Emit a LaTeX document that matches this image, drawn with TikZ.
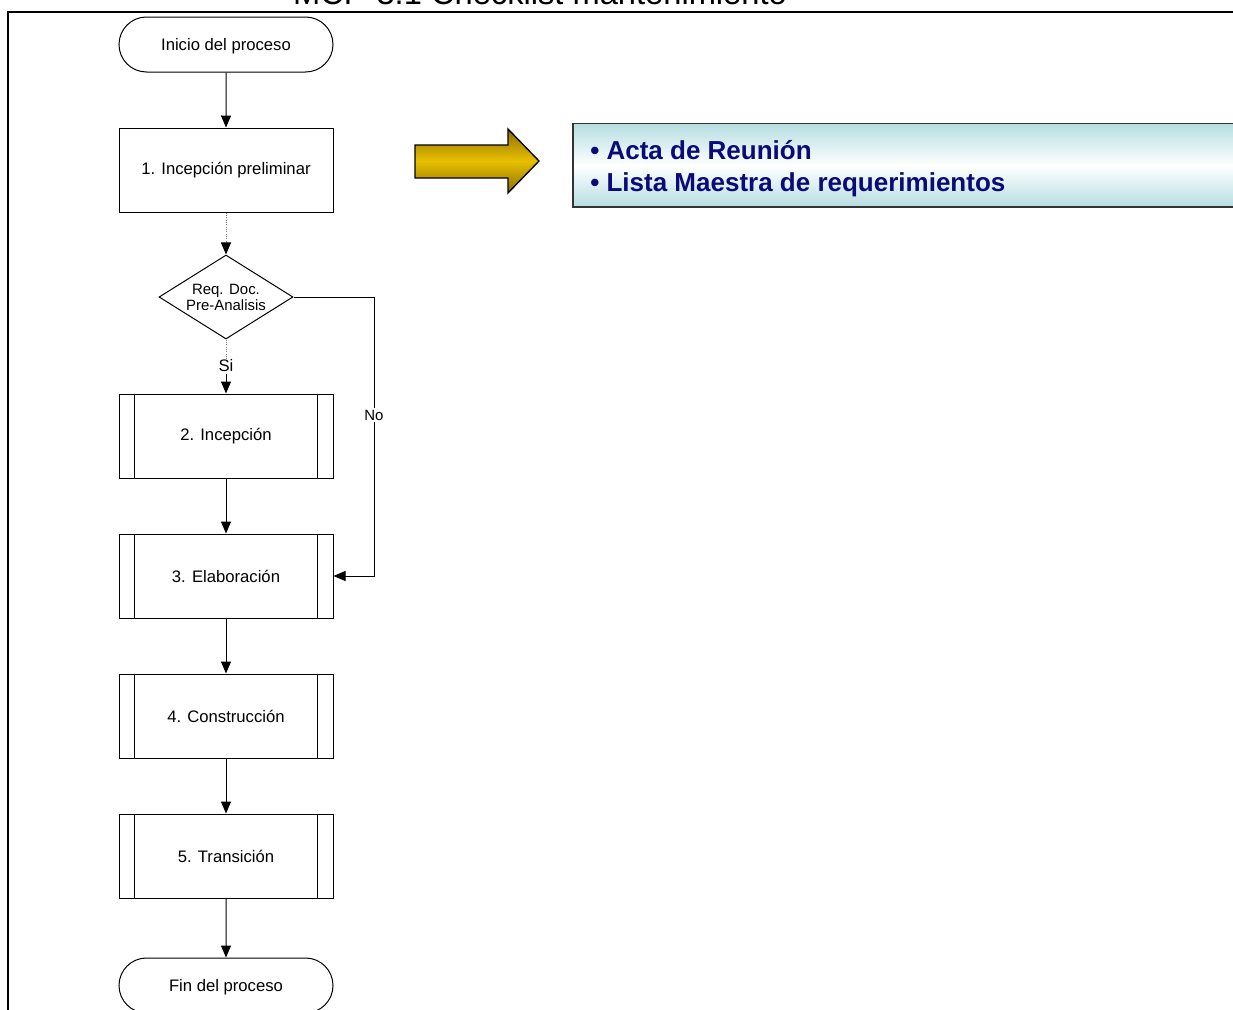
\documentclass[tikz,border=0pt]{standalone}
\usepackage{fontspec}
\setmainfont{Liberation Sans}
\usetikzlibrary{shapes.geometric,shapes.misc,arrows.meta,calc}
\definecolor{navy}{HTML}{0A0A78}
\definecolor{teal1}{HTML}{B6DDE1}
\definecolor{gold}{HTML}{E8C000}
\definecolor{golddark}{HTML}{8C6E00}
\tikzset{
  base/.style={draw=black, line width=0.75pt, font=\fontsize{12.5}{14}\selectfont, align=center},
  term/.style={base, rounded rectangle, minimum width=160.5pt, minimum height=41.25pt, inner sep=0pt, text depth=0pt},
  proc/.style={base, rectangle, minimum width=160.5pt, minimum height=63pt, inner sep=0pt},
  subproc/.style={proc, append after command={
      \pgfextra{\draw[line width=0.75pt] ([xshift=12pt]\tikzlastnode.north west) -- ([xshift=12pt]\tikzlastnode.south west)
        ([xshift=-12pt]\tikzlastnode.north east) -- ([xshift=-12pt]\tikzlastnode.south east);}}},
  decision/.style={base, diamond, minimum width=100.5pt, minimum height=63pt, inner sep=0pt, aspect=1.6, font=\fontsize{11.2}{12}\selectfont},
  flow/.style={line width=0.75pt, -{Triangle[length=9pt,width=7.5pt]}},
  dflow/.style={line width=0.75pt, densely dotted, draw=gray, -{Triangle[length=9pt,width=7.5pt,black]}}
}
\begin{document}
\begin{tikzpicture}[x=0.75pt,y=-0.75pt]
\useasboundingbox (0,0) rectangle (1233,1010);
\fill[white] (0,0) rectangle (1233,1010);
% title (cut at top, as in the reference)
\node[anchor=base, font=\fontsize{24.5}{26}\selectfont, inner sep=0pt] (title) at (540,4) {MCP-3.1 Checklist mantenimiento};
% frame
\draw[line width=1.5pt] (8,1015) -- (8,12) -- (1240,12);
% nodes
\node[term] (start) at (226,44.5) {Inicio del proceso};
\node[proc] (p1) at (226,170) {1. Incepción preliminar};
\node[decision] (d) at (226,297) {Req. Doc.\\Pre-Analisis};
\node[subproc] (p2) at (226,436) {2. Incepción};
\node[subproc] (p3) at (226,576) {3. Elaboración};
\node[subproc] (p4) at (226,716) {4. Construcción};
\node[subproc] (p5) at (226,856) {5. Transición};
\node[term] (fin) at (226,985.5) {Fin del proceso};
\coordinate (nc1) at (374,297);
\coordinate (nc2) at (374,576);
% connectors
\draw[flow] (start) -- (p1);
\draw[dflow] (p1) -- (d);
\node[font=\fontsize{12.5}{14}\selectfont, fill=white, inner sep=1pt] (si) at (226,366) {Si};
\draw[densely dotted, draw=gray, line width=0.75pt] (d.south) -- (si.north);
\draw[flow] (si.south) -- (p2.north);
\draw[flow] (p2) -- (p3);
\draw[flow] (p3) -- (p4);
\draw[flow] (p4) -- (p5);
\draw[flow] (p5) -- (fin);
\draw[flow] (d.east) -- (nc1) -- (nc2) -- (p3.east);
\node[font=\fontsize{11.2}{13}\selectfont, fill=white, inner sep=1pt] (no) at (374,415) {No};
% yellow arrow
\shade[top color=golddark, bottom color=golddark, middle color=gold, draw=black, line width=1pt]
  (415,145) -- (508,145) -- (508,129) -- (539,161) -- (508,193) -- (508,178) -- (415,178) -- cycle;
% output box
\shade[top color=teal1, bottom color=teal1, middle color=white, draw=black!80, line width=1pt]
  (573,123.5) rectangle (1245,207);
\node[anchor=base west, font=\bfseries\fontsize{19.5}{22}\selectfont, text=navy, inner sep=0pt] (o1) at (590,159) {\textbullet\ Acta de Reunión};
\node[anchor=base west, font=\bfseries\fontsize{19.5}{22}\selectfont, text=navy, inner sep=0pt] (o2) at (590,191) {\textbullet\ Lista Maestra de requerimientos};
\end{tikzpicture}
\end{document}
